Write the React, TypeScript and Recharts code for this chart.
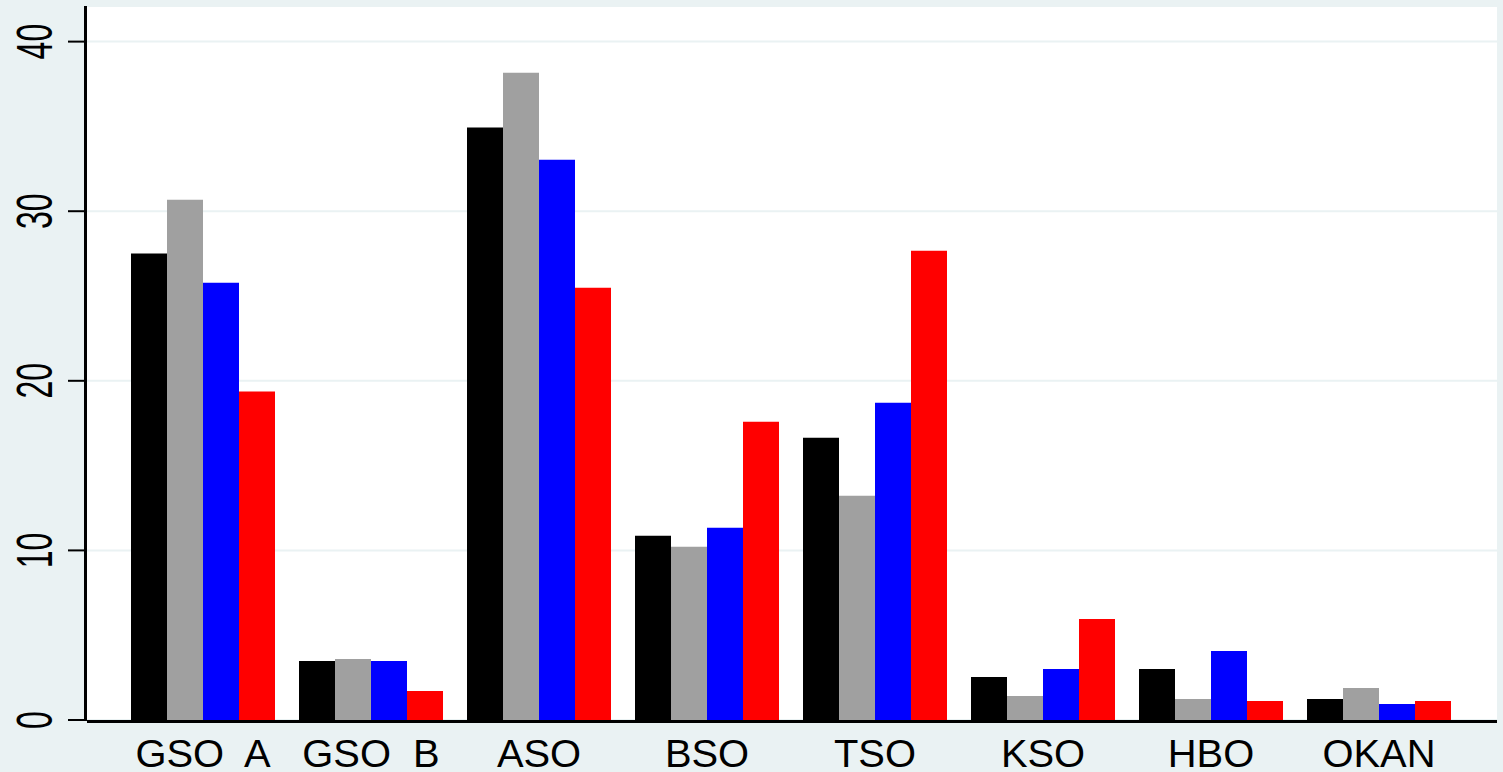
import React from 'react';
import { BarChart, Bar, XAxis, YAxis, CartesianGrid } from 'recharts';

const categories = ['GSO  A', 'GSO  B', 'ASO', 'BSO', 'TSO', 'KSO', 'HBO', 'OKAN'];
const series1 = [27.5, 3.48, 34.93, 10.86, 16.64, 2.54, 3.01, 1.24];
const series2 = [30.68, 3.6, 38.17, 10.21, 13.22, 1.42, 1.24, 1.89];
const series3 = [25.78, 3.48, 33.04, 11.33, 18.7, 3.01, 4.07, 0.94];
const series4 = [19.37, 1.71, 25.49, 17.58, 27.67, 5.96, 1.12, 1.12];
const yTicks = [0, 10, 20, 30, 40];

const data = categories.map((c, i) => ({
  name: c,
  s1: series1[i],
  s2: series2[i],
  s3: series3[i],
  s4: series4[i],
}));

const FONT = '"Liberation Sans", Arial, sans-serif';

const YTick = (props: any) => {
  const { x, y, payload } = props;
  return (
    <text
      transform={`translate(${x - 14},${y}) rotate(-90) scale(0.64,1)`}
      textAnchor="middle"
      fontSize={50}
      fontFamily={FONT}
      fill="#000"
    >
      {payload.value}
    </text>
  );
};

const XTick = (props: any) => {
  const { x, y, payload } = props;
  return (
    <text
      transform={`translate(${x},${y + 47}) scale(1.05,1)`}
      textAnchor="middle"
      fontSize={38}
      fontFamily={FONT}
      fill="#000"
      xmlSpace="preserve"
      style={{ whiteSpace: 'pre' }}
    >
      {payload.value}
    </text>
  );
};

export default function App() {
  return (
    <div style={{ position: 'absolute', left: 0, top: 0, width: 1503, height: 772, background: '#EAF2F3' }}>
      <BarChart
        width={1503}
        height={772}
        data={data}
        margin={{ top: 6, right: 6, bottom: 0, left: 0 }}
        barCategoryGap={12}
        barGap={0}
      >
        <CartesianGrid vertical={false} fill="#ffffff" stroke="#EAF2F3" strokeWidth={2} />
        <XAxis
          dataKey="name"
          height={52}
          padding={{ left: 32, right: 34 }}
          tickLine={false}
          tickSize={0}
          tickMargin={0}
          axisLine={{ stroke: '#000', strokeWidth: 3, transform: 'translate(0,1.5)' }}
          tick={<XTick />}
          interval={0}
        />
        <YAxis
          width={87}
          domain={[0, 42.1]}
          ticks={yTicks}
          allowDataOverflow
          tickSize={19}
          tickMargin={2}
          tickLine={{ stroke: '#000', strokeWidth: 2 }}
          axisLine={{ stroke: '#000', strokeWidth: 3, transform: 'translate(-1.5,0)' }}
          tick={<YTick />}
        />
        <Bar dataKey="s1" fill="#000000" isAnimationActive={false} />
        <Bar dataKey="s2" fill="#A0A0A0" isAnimationActive={false} />
        <Bar dataKey="s3" fill="#0000FF" isAnimationActive={false} />
        <Bar dataKey="s4" fill="#FF0000" isAnimationActive={false} />
      </BarChart>
    </div>
  );
}
